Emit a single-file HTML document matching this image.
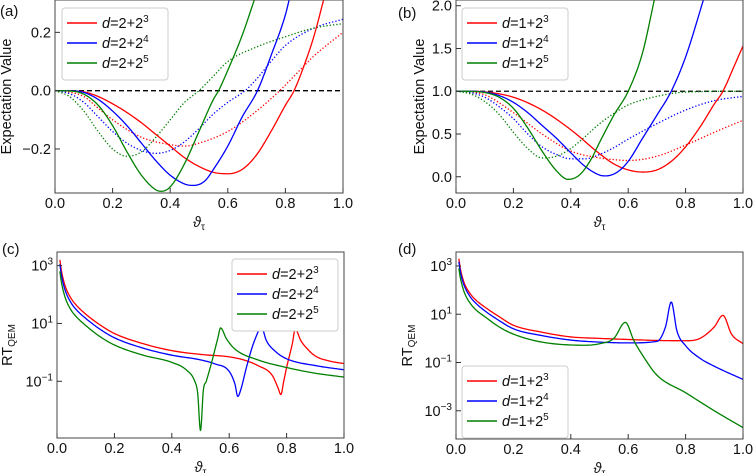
<!DOCTYPE html>
<html><head><meta charset="utf-8"><style>
body{margin:0;background:#fff}
svg{display:block;font-family:"Liberation Sans","DejaVu Sans",sans-serif}
</style></head><body>
<svg id="fig" width="755" height="473" viewBox="0 0 755 473"></svg>
<script>
// ---- data ----
const xTicks=[0,0.2,0.4,0.6,0.8,1.0];
const xTickLabels=["0.0","0.2","0.4","0.6","0.8","1.0"];
const aYTicks=[-0.2,0,0.2];
const aYTickLabels=["\u22120.2","0.0","0.2"];
const bYTicks=[0,0.5,1,1.5,2];
const bYTickLabels=["0.0","0.5","1.0","1.5","2.0"];
const cYTicks=[-1,1,3];
const dYTicks=[-3,-1,1,3];
const legA=["2+2","3","2+2","4","2+2","5"];
const legB=["1+2","3","1+2","4","1+2","5"];
// panel a
const aRed=[[0,0],[0.05,-0.0005],[0.1,-0.004],[0.15,-0.02],[0.2,-0.045],[0.25,-0.075],[0.3,-0.11],[0.35,-0.15],[0.4,-0.19],[0.45,-0.23],[0.5,-0.26],[0.55,-0.28],[0.6,-0.285],[0.65,-0.27],[0.7,-0.22],[0.75,-0.14],[0.8,-0.05],[0.83,0],[0.87,0.1],[0.9,0.19],[0.935,0.32]];
const aBlue=[[0,0],[0.05,-0.0005],[0.1,-0.006],[0.15,-0.03],[0.2,-0.07],[0.25,-0.12],[0.3,-0.18],[0.35,-0.24],[0.4,-0.29],[0.45,-0.32],[0.48,-0.325],[0.52,-0.31],[0.55,-0.27],[0.6,-0.19],[0.65,-0.09],[0.703,0],[0.75,0.12],[0.8,0.26],[0.815,0.32]];
const aGreen=[[0,0],[0.05,-0.001],[0.1,-0.012],[0.15,-0.05],[0.2,-0.12],[0.25,-0.21],[0.3,-0.29],[0.35,-0.34],[0.37,-0.345],[0.4,-0.33],[0.45,-0.25],[0.5,-0.14],[0.55,-0.03],[0.568,0],[0.6,0.07],[0.65,0.19],[0.695,0.32]];
const aRedDot=[[0,0],[0.05,-0.005],[0.1,-0.02],[0.15,-0.06],[0.2,-0.1],[0.3,-0.16],[0.4,-0.185],[0.45,-0.19],[0.5,-0.18],[0.6,-0.14],[0.7,-0.07],[0.78,0],[0.85,0.07],[0.9,0.12],[1.0,0.2]];
const aBlueDot=[[0,0],[0.05,-0.01],[0.1,-0.04],[0.15,-0.09],[0.2,-0.14],[0.25,-0.18],[0.3,-0.205],[0.35,-0.215],[0.4,-0.205],[0.45,-0.175],[0.5,-0.13],[0.55,-0.08],[0.6,-0.04],[0.66,0],[0.7,0.04],[0.75,0.1],[0.8,0.155],[0.9,0.215],[1.0,0.245]];
const aGreenDot=[[0,0],[0.05,-0.02],[0.1,-0.07],[0.15,-0.14],[0.2,-0.2],[0.25,-0.225],[0.3,-0.21],[0.35,-0.16],[0.4,-0.1],[0.45,-0.04],[0.5,0],[0.55,0.05],[0.6,0.1],[0.7,0.15],[0.8,0.185],[0.9,0.215],[1.0,0.23]];
// panel b
const bRed=[[0,1],[0.05,0.999],[0.1,0.993],[0.2,0.93],[0.3,0.78],[0.4,0.55],[0.5,0.27],[0.55,0.15],[0.6,0.08],[0.65,0.055],[0.7,0.08],[0.75,0.18],[0.8,0.35],[0.85,0.58],[0.9,0.85],[0.93,1.0],[0.97,1.3],[1.0,1.53]];
const bBlue=[[0,1],[0.05,0.999],[0.1,0.99],[0.15,0.95],[0.2,0.87],[0.25,0.75],[0.3,0.6],[0.35,0.45],[0.4,0.28],[0.45,0.12],[0.5,0.02],[0.52,0.01],[0.56,0.05],[0.6,0.18],[0.65,0.45],[0.7,0.72],[0.75,1.0],[0.8,1.4],[0.865,2.1]];
const bGreen=[[0,1],[0.05,0.998],[0.1,0.985],[0.15,0.93],[0.2,0.8],[0.25,0.57],[0.3,0.3],[0.35,0.07],[0.39,-0.03],[0.43,0.02],[0.47,0.2],[0.5,0.4],[0.55,0.72],[0.6,1.0],[0.65,1.45],[0.693,2.1]];
const bRedDot=[[0,1],[0.05,0.99],[0.1,0.96],[0.2,0.75],[0.3,0.5],[0.4,0.3],[0.5,0.22],[0.55,0.2],[0.6,0.19],[0.7,0.24],[0.8,0.37],[0.9,0.52],[1.0,0.66]];
const bBlueDot=[[0,1],[0.05,0.985],[0.1,0.93],[0.15,0.82],[0.2,0.68],[0.25,0.5],[0.3,0.35],[0.35,0.26],[0.4,0.21],[0.45,0.21],[0.5,0.26],[0.55,0.34],[0.6,0.44],[0.7,0.62],[0.8,0.78],[0.9,0.89],[1.0,0.94]];
const bGreenDot=[[0,1],[0.05,0.97],[0.1,0.88],[0.15,0.73],[0.2,0.52],[0.25,0.33],[0.3,0.22],[0.35,0.24],[0.4,0.33],[0.45,0.47],[0.5,0.62],[0.55,0.74],[0.6,0.84],[0.7,0.94],[0.8,0.99],[1.0,1.0]];
// panel c (RT values)
const cRed=[[0.01,1585],[0.015,708],[0.02,398],[0.03,178],[0.05,71],[0.07,40],[0.1,21],[0.15,8.9],[0.2,4.5],[0.3,2],[0.4,1.15],[0.5,0.85],[0.6,0.7],[0.65,0.55],[0.7,0.35],[0.75,0.16],[0.77,0.06],[0.78,0.035],[0.79,0.1],[0.8,0.3],[0.82,2],[0.83,6.3],[0.85,2.5],[0.87,1.4],[0.9,0.75],[0.95,0.5],[1.0,0.41]];
const cBlue=[[0.01,1120],[0.015,500],[0.02,280],[0.03,126],[0.05,50],[0.07,28],[0.1,15],[0.15,6.3],[0.2,3.2],[0.3,1.4],[0.4,0.8],[0.5,0.55],[0.55,0.4],[0.6,0.22],[0.62,0.08],[0.63,0.03],[0.64,0.05],[0.66,0.3],[0.68,1.5],[0.7,5],[0.71,8.5],[0.73,2.5],[0.76,1.1],[0.8,0.6],[0.9,0.35],[1.0,0.25]];
const cGreen=[[0.01,630],[0.015,280],[0.02,160],[0.03,71],[0.05,28],[0.07,16],[0.1,8.5],[0.15,3.5],[0.2,1.8],[0.3,0.8],[0.4,0.45],[0.45,0.25],[0.48,0.1],[0.49,0.04],[0.5,0.002],[0.51,0.05],[0.52,0.1],[0.54,0.5],[0.56,3],[0.57,7],[0.59,3],[0.62,1.3],[0.7,0.55],[0.8,0.3],[0.9,0.19],[1.0,0.14]];
// panel d
const dRed=[[0.01,2000],[0.015,800],[0.02,430],[0.03,180],[0.05,70],[0.07,38],[0.1,20],[0.15,8],[0.2,3.5],[0.3,1.8],[0.4,1.15],[0.5,1.0],[0.6,0.9],[0.7,0.82],[0.8,0.8],[0.85,1.0],[0.9,3],[0.93,9],[0.96,1.5],[1.0,0.6]];
const dBlue=[[0.01,1500],[0.015,600],[0.02,320],[0.03,140],[0.05,52],[0.07,28],[0.1,14],[0.15,5.5],[0.2,2.5],[0.3,1.3],[0.4,0.85],[0.5,0.7],[0.6,0.65],[0.7,0.75],[0.73,3],[0.75,32],[0.77,2],[0.8,0.5],[0.85,0.15],[0.9,0.07],[1.0,0.02]];
const dGreen=[[0.01,800],[0.015,330],[0.02,180],[0.03,75],[0.05,28],[0.07,15],[0.1,8],[0.15,3],[0.2,1.5],[0.3,0.7],[0.45,0.52],[0.5,0.6],[0.55,1.0],[0.59,4.6],[0.62,0.8],[0.65,0.2],[0.7,0.03],[0.8,0.0056],[0.9,0.001],[1.0,0.0002]];

// ---- drawing ----
const NS="http://www.w3.org/2000/svg";
const svg=document.getElementById('fig');
function el(tag,attrs,parent){const e=document.createElementNS(NS,tag);for(const k in attrs)e.setAttribute(k,attrs[k]);(parent||svg).appendChild(e);return e;}
const COL={red:"#ff0000",blue:"#0000ff",green:"#008000"};
function monotone(xs,ys){const n=xs.length,d=[],m=new Array(n);
 for(let i=0;i<n-1;i++)d.push((ys[i+1]-ys[i])/(xs[i+1]-xs[i]));
 m[0]=d[0];m[n-1]=d[n-2];
 for(let i=1;i<n-1;i++)m[i]=(d[i-1]*d[i]<=0)?0:(d[i-1]+d[i])/2;
 for(let i=0;i<n-1;i++){if(d[i]===0){m[i]=0;m[i+1]=0;continue;}const a=m[i]/d[i],b=m[i+1]/d[i],s=a*a+b*b;if(s>9){const t=3/Math.sqrt(s);m[i]=t*a*d[i];m[i+1]=t*b*d[i];}}
 const out=[];
 for(let i=0;i<n-1;i++){const h=xs[i+1]-xs[i];const N=12;
  for(let k=0;k<N;k++){const t=k/N,t2=t*t,t3=t2*t;
   const y=(2*t3-3*t2+1)*ys[i]+(t3-2*t2+t)*h*m[i]+(-2*t3+3*t2)*ys[i+1]+(t3-t2)*h*m[i+1];
   out.push([xs[i]+t*h,y]);}}
 out.push([xs[n-1],ys[n-1]]);return out;}
function panel(p){
 const g=el('g',{});
 
 
 const X=v=>p.L+v*(p.R-p.L);
 const Yl=v=>p.B-(v-p.ymin)/(p.ymax-p.ymin)*(p.B-p.T);
 const Y=p.log?(v=>Yl(Math.log10(v))):Yl;
 const cid='clip-'+p.name;
 const cp=el('clipPath',{id:cid},g);el('rect',{x:p.L,y:p.T,width:p.R-p.L,height:p.B-p.T},cp);
 const plot=el('g',{'clip-path':'url(#'+cid+')'},g);
 if(p.dashY!==undefined){const dl=el('line',{x1:p.L,x2:p.R,y1:Y(p.dashY),y2:Y(p.dashY),stroke:'#000','stroke-width':1.3,'stroke-dasharray':'5,3'},plot);
  
  }
 p.series.forEach(s=>{const xs=s.data.map(q=>q[0]),ys=s.data.map(q=>p.log?Math.log10(q[1]):q[1]);
  const dense=monotone(xs,ys);
  const d="M"+dense.map(q=>X(q[0]).toFixed(2)+","+Yl(q[1]).toFixed(2)).join("L");
  const path=el('path',{d:d,fill:'none',stroke:COL[s.c],'stroke-width':1.3,'stroke-dasharray':s.dot?'1.3,2':'none','stroke-linejoin':'round'},plot);
  
  });
 el('rect',{x:p.L,y:p.T,width:p.R-p.L,height:p.B-p.T,fill:'none',stroke:'#444','stroke-width':1},g);
 xTicks.forEach((v,i)=>{el('line',{x1:X(v),x2:X(v),y1:p.B,y2:p.B-5,stroke:'#333'},g);
  const t=el('text',{x:X(v),y:p.B+15,'text-anchor':'middle','font-size':14.5,fill:'#111'},g);t.textContent=xTickLabels[i];
  
  });
 p.yTicks.forEach((v,i)=>{const yy=p.log?Yl(v):Y(v);
  el('line',{x1:p.L,x2:p.L+5,y1:yy,y2:yy,stroke:'#333'},g);
  const t=el('text',{x:p.L-4,y:yy+5,'text-anchor':'end','font-size':14.5,fill:'#111'},g);
  
  
  if(p.log){t.textContent='10';const s=el('tspan',{dy:-6,'font-size':10},t);s.textContent=(v<0?'\u2212':'')+Math.abs(v);}
  else t.textContent=p.yLabels[i];});
 const xt=el('text',{x:(p.L+p.R)/2,y:p.B+34,'text-anchor':'middle','font-size':14.5,'font-style':'italic',fill:'#111'},g);
 xt.textContent='\u03d1';const sub=el('tspan',{dy:3,'font-size':10,'font-style':'normal'},xt);sub.textContent='\u03c4';
 
 
 const cy=(p.T+p.B)/2;
 const yt=el('text',{x:p.yTitleX,y:cy,'text-anchor':'middle','font-size':14.5,fill:'#111',transform:'rotate(-90 '+p.yTitleX+' '+cy+')'},g);
 if(p.log){yt.textContent='RT';const s=el('tspan',{dy:3,'font-size':10},yt);s.textContent='QEM';}else yt.textContent='Expectation Value';
 
 
 const pl=el('text',{x:p.lx,y:p.ly,'font-size':15,fill:'#111'},g);pl.textContent=p.label;
 
 
 const lg=el('g',{},g);
 
 
 el('rect',{x:p.lgx,y:p.lgy,width:106,height:72,rx:3,fill:'#fff',stroke:'#ccc'},lg);
 ['red','blue','green'].forEach((c,i)=>{const yy=p.lgy+15+i*20;
  el('line',{x1:p.lgx+5,x2:p.lgx+35,y1:yy,y2:yy,stroke:COL[c],'stroke-width':1.5},lg);
  const t=el('text',{x:p.lgx+40,y:yy+5,'font-size':14.5,fill:'#111'},lg);
  
  
  const a=el('tspan',{'font-style':'italic'},t);a.textContent='d';
  const b=el('tspan',{},t);b.textContent='='+p.leg[i*2];
  const e=el('tspan',{dy:-6,'font-size':10},t);e.textContent=p.leg[i*2+1];});
}
panel({name:'panel-a',L:55,R:343,T:0,B:193,ymin:-0.351,ymax:0.311,yTicks:aYTicks,yLabels:aYTickLabels,dashY:0,yTitleX:11,label:'(a)',lx:0,ly:16,lgx:62,lgy:8,leg:legA,
 series:[{data:aRedDot,c:'red',dot:1,n:'a-red-dotted'},{data:aBlueDot,c:'blue',dot:1,n:'a-blue-dotted'},{data:aGreenDot,c:'green',dot:1,n:'a-green-dotted'},{data:aRed,c:'red',n:'a-red-line'},{data:aBlue,c:'blue',n:'a-blue-line'},{data:aGreen,c:'green',n:'a-green-line'}]});
panel({name:'panel-b',L:456,R:743,T:0,B:193,ymin:-0.19,ymax:2.067,yTicks:bYTicks,yLabels:bYTickLabels,dashY:1,yTitleX:424,label:'(b)',lx:398,ly:18,lgx:462,lgy:8,leg:legB,
 series:[{data:bRedDot,c:'red',dot:1,n:'b-red-dotted'},{data:bBlueDot,c:'blue',dot:1,n:'b-blue-dotted'},{data:bGreenDot,c:'green',dot:1,n:'b-green-dotted'},{data:bRed,c:'red',n:'b-red-line'},{data:bBlue,c:'blue',n:'b-blue-line'},{data:bGreen,c:'green',n:'b-green-line'}]});
panel({name:'panel-c',log:1,L:57,R:344,T:252,B:438,ymin:-2.96,ymax:3.47,yTicks:cYTicks,yTitleX:12,label:'(c)',lx:2,ly:254,lgx:232,lgy:259,leg:legA,
 series:[{data:cRed,c:'red',n:'c-red-line'},{data:cBlue,c:'blue',n:'c-blue-line'},{data:cGreen,c:'green',n:'c-green-line'}]});
panel({name:'panel-d',log:1,L:456,R:743,T:252,B:439,ymin:-4.17,ymax:3.58,yTicks:dYTicks,yTitleX:412,label:'(d)',lx:398,ly:254,lgx:462,lgy:366,leg:legB,
 series:[{data:dRed,c:'red',n:'d-red-line'},{data:dBlue,c:'blue',n:'d-blue-line'},{data:dGreen,c:'green',n:'d-green-line'}]});
</script>
</body></html>
